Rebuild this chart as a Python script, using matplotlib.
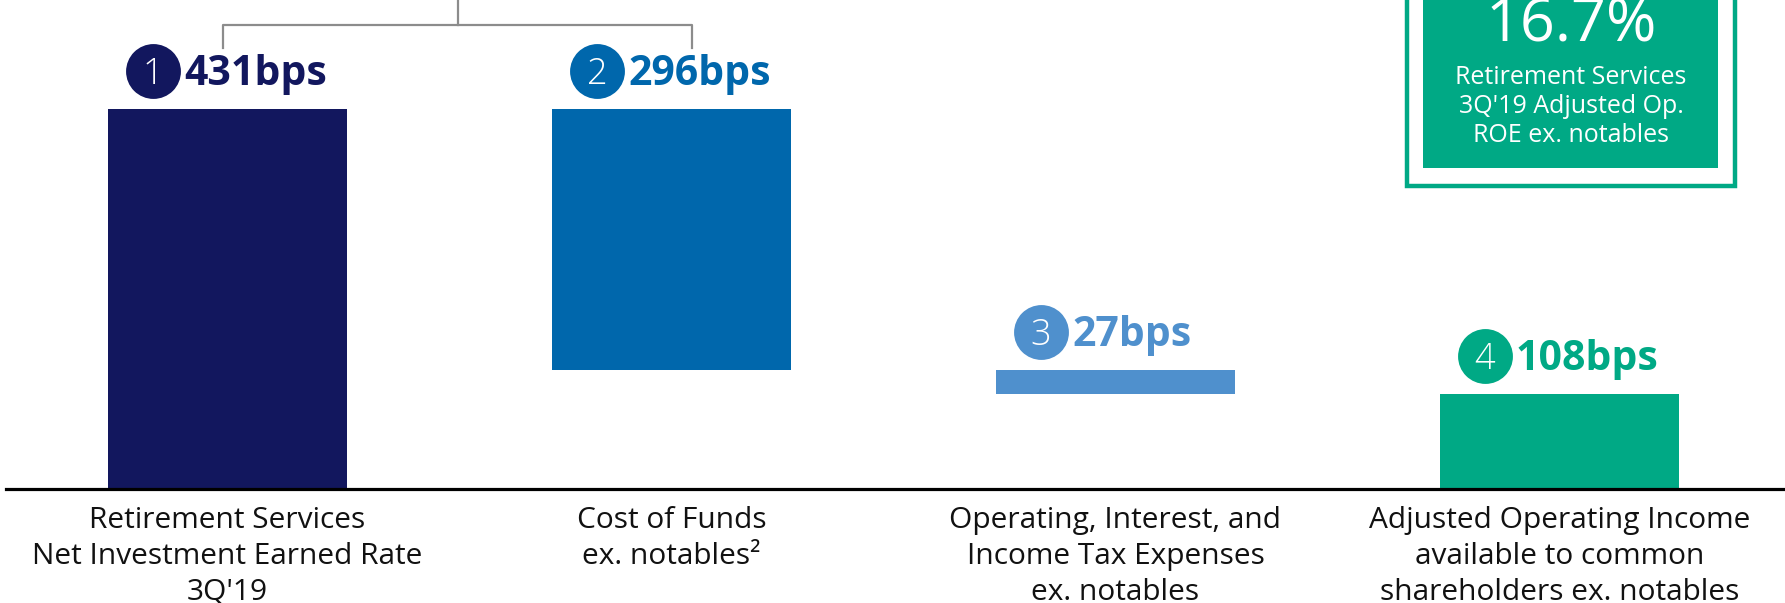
import numpy as np
import matplotlib
matplotlib.use("Agg")
import matplotlib.pyplot as plt
from matplotlib.patches import Rectangle
from matplotlib.transforms import offset_copy

plt.rcParams["font.family"] = ["Open Sans", "DejaVu Sans"]

# --- data -------------------------------------------------------------
categories = [
    "Retirement Services\nNet Investment Earned Rate\n3Q'19",
    "Cost of Funds\nex. notables\u00b2",
    "Operating, Interest, and\nIncome Tax Expenses\nex. notables",
    "Adjusted Operating Income\navailable to common\nshareholders ex. notables",
]
steps = [431, -296, -27, 108]          # bps, last one is the total
step_labels = ["431bps", "296bps", "27bps", "108bps"]
step_numbers = ["1", "2", "3", "4"]
colors = ["#12175E", "#0067AC", "#4F90CD", "#00A985"]
roe_value = "16.7%"
roe_text = "Retirement Services\n3Q'19 Adjusted Op.\nROE ex. notables"

# waterfall bottoms / heights
bottoms, heights = [], []
running = 0
for i, s in enumerate(steps):
    if i == len(steps) - 1:
        bottoms.append(0)
        heights.append(s)
    elif s >= 0:
        bottoms.append(running)
        heights.append(s)
        running += s
    else:
        running += s
        bottoms.append(running)
        heights.append(-s)
tops = [b + h for b, h in zip(bottoms, heights)]

# --- figure -----------------------------------------------------------
W, H, DPI = 1785, 603, 100
fig = plt.figure(figsize=(W / DPI, H / DPI), dpi=DPI)
ax = fig.add_axes([0, 0, 1, 1])
ax.set_axis_off()

x = np.arange(len(steps))
bar_w = 0.538
ax.bar(x, heights, bottom=bottoms, width=bar_w, color=colors, zorder=2)
ax.set_xlim(-0.5124, 3.508)
ax.set_ylim(-129.3, 554.6)

# baseline
ax.axhline(0, xmin=6 / W, xmax=1, color="black", lw=2.3, zorder=3)


def px(dx, dy):
    # data point shifted by a number of pixels
    return offset_copy(ax.transData, fig=fig, x=dx, y=dy, units="dots")


for i in range(len(steps)):
    left = x[i] - bar_w / 2
    ax.plot(left, tops[i], "o", ms=39.5, color=colors[i], mec="none",
            transform=px(45, 38), zorder=4)
    ax.text(left, tops[i], step_numbers[i], color="white", fontsize=26,
            fontweight="light", ha="center", va="baseline",
            transform=px(45, 25), zorder=5)
    ax.text(left, tops[i], step_labels[i], color=colors[i], fontsize=29.5,
            fontweight="bold", ha="left", va="baseline",
            transform=px(76, 24), zorder=5)
    ax.text(x[i], 0, categories[i], color="#111111", fontsize=21.5,
            ha="center", va="top", linespacing=1.31,
            transform=px(0, -17))

# bracket joining bars 1 and 2
gray = "#8C8C8C"
bx0, bx1 = x[0] - 0.01, x[1] + 0.047
xm = (bx0 + bx1) / 2
yb = tops[0]
ax.plot([bx0, bx0, bx1, bx1], [yb, yb + 26, yb + 26, yb],
        color=gray, lw=1.6, transform=px(0, 61), zorder=1)
ax.plot([xm, xm], [yb + 26, yb + 60], color=gray, lw=1.6,
        transform=px(0, 61), zorder=1)


# ROE call-out box (top right), placed in figure pixels
def fx(p):
    return p / W


def fy(p):
    return 1 - p / H


fig.add_artist(Rectangle((fx(1407), fy(186)), fx(1735) - fx(1407), 0.5,
                         transform=fig.transFigure, fc="white",
                         ec="#00A985", lw=3.2))
fig.add_artist(Rectangle((fx(1423), fy(168)), fx(1718) - fx(1423), 0.5,
                         transform=fig.transFigure, fc="#00A985",
                         ec="none"))
fig.text(fx(1571), fy(41), roe_value, color="white", fontsize=44,
         ha="center", va="baseline")
fig.text(fx(1571), fy(65), roe_text, color="white", fontsize=18,
         ha="center", va="top", linespacing=1.22)

fig.savefig("out.png", dpi=DPI)
